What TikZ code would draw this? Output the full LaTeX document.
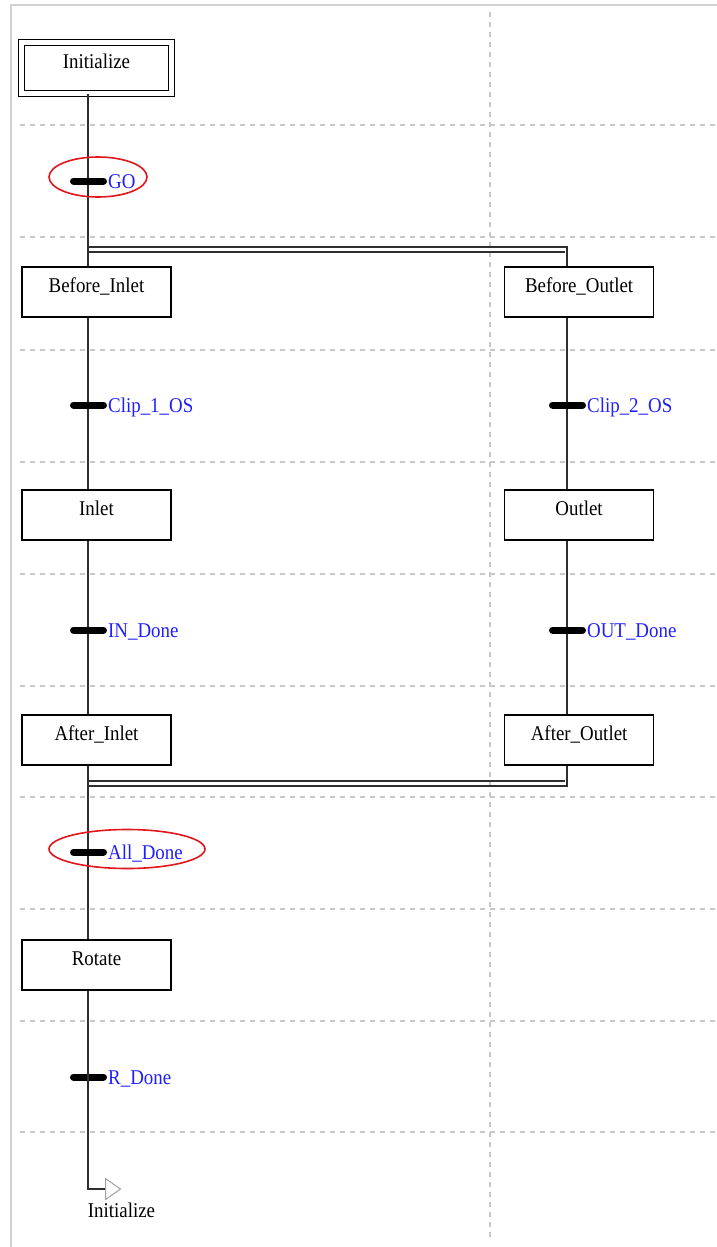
\documentclass[tikz,border=0pt]{standalone}
\usepackage{fontspec}
\setmainfont{Liberation Serif}
\newfontfamily\sfcfont[FakeStretch=0.9]{Liberation Serif}
\usetikzlibrary{positioning,calc,shapes.geometric}
\definecolor{GridGray}{HTML}{C8C8C8}
\definecolor{FrameGray}{HTML}{D2D2D2}
\definecolor{FlowBlack}{HTML}{2E2E2E}
\definecolor{CondBlue}{HTML}{1E1EFF}
\definecolor{RingRed}{HTML}{E3141C}
\tikzset{
    % Step box
    stepbox/.style={
        draw=black,
        fill=white,
        line width=1.6pt,
        minimum width=149pt,
        minimum height=50pt,
        inner sep=0pt,
        text height=14pt,
        text depth=14pt,
        font=\sfcfont\fontsize{21}{21}\selectfont
    },
    % Initial step (double frame)
    initbox/.style={
        stepbox,
        double=white,
        double distance=4.4pt,
        line width=1.6pt,
        minimum width=150pt,
        minimum height=51pt
    },
    % Transition condition text
    condtext/.style={
        anchor=base west,
        inner sep=0pt,
        text=CondBlue,
        font=\sfcfont\fontsize{21}{21}\selectfont
    },
    % Plain text
    plaintext/.style={
        anchor=base,
        inner sep=0pt,
        font=\sfcfont\fontsize{21}{21}\selectfont
    },
    % Transition bar
    trbar/.style={
        line width=7pt,
        line cap=round,
        draw=black
    },
    % Flow line
    flow/.style={
        line width=2.2pt,
        draw=FlowBlack
    },
    % Grid line
    gridline/.style={
        dash pattern=on 5pt off 5pt,
        line width=1.2pt,
        draw=GridGray
    },
    % Highlight ring
    ring/.style={
        line width=1.6pt,
        draw=RingRed
    },
    % Jump arrow
    jumptip/.style={
        isosceles triangle,
        isosceles triangle stretches,
        draw=GridGray!80!black,
        fill=white,
        line width=1pt,
        minimum height=15pt,
        minimum width=21pt,
        inner sep=0pt,
        anchor=west
    }
}
\begin{document}
\begin{tikzpicture}[x=1pt, y=-1pt]
        \useasboundingbox (0,0) rectangle (717,1247);

        % Frame and grid
        \draw[line width=2pt, draw=FrameGray] (11,1247) -- (11,5) -- (717,5);
        \foreach \gy in {125,237,350,462,574,686,797,909,1021,1132}
            \draw[gridline] (20,\gy) -- (717,\gy);
        \draw[gridline] (490,12) -- (490,1242);

        % Column coordinates
        \coordinate (colL) at (88,0);
        \coordinate (colR) at (567,0);

        % Steps
        \node[initbox] (init) at (96.5,68) {Initialize};
        \node[stepbox] (bi) at (96.5,292) {Before\_Inlet};
        \node[stepbox] (in) at (96.5,515) {Inlet};
        \node[stepbox] (ai) at (96.5,740) {After\_Inlet};
        \node[stepbox] (rot) at (96.5,965) {Rotate};
        \node[stepbox, right=332pt of bi] (bo) {Before\_Outlet};
        \node[stepbox, right=332pt of in] (out) {Outlet};
        \node[stepbox, right=332pt of ai] (ao) {After\_Outlet};

        % Divergence and convergence
        \coordinate (divT) at (88,247);
        \coordinate (divB) at (88,786);
        \draw[flow] (divT) -- (divT -| colR) -- (bo.north -| colR);
        \draw[flow] ($(divT)+(0,5)$) -- ($(divT -| colR)+(-2,5)$);
        \draw[flow] (ao.south -| colR) -- (divB -| colR) -- (divB);
        \draw[flow] ($(divB)+(0,-5)$) -- ($(divB -| colR)+(-2,-5)$);

        % Flow lines
        \draw[flow] (init.south -| colL) -- (bi.north -| colL);
        \draw[flow] (bi.south -| colL) -- (in.north -| colL);
        \draw[flow] (in.south -| colL) -- (ai.north -| colL);
        \draw[flow] (ai.south -| colL) -- (rot.north -| colL);
        \draw[flow] (bo.south -| colR) -- (out.north -| colR);
        \draw[flow] (out.south -| colR) -- (ao.north -| colR);

        % Transitions
        \coordinate (t1) at (88,181);
        \coordinate (t2) at (88,405);
        \coordinate (t3) at (88,630);
        \coordinate (t4) at (88,852);
        \coordinate (t5) at (88,1077);
        \coordinate (t6) at (567,405);
        \coordinate (t7) at (567,630);
        \foreach \t in {t1,t2,t3,t4,t5,t6,t7}
            \draw[trbar] ($(\t)+(-14.5,0)$) -- ($(\t)+(15.5,0)$);
        \node[condtext] (c1) at ($(t1)+(20,7)$) {GO};
        \node[condtext] (c2) at ($(t2)+(20,7)$) {Clip\_1\_OS};
        \node[condtext] (c3) at ($(t3)+(20,7)$) {IN\_Done};
        \node[condtext] (c4) at ($(t4)+(20,7)$) {All\_Done};
        \node[condtext] (c5) at ($(t5)+(20,7)$) {R\_Done};
        \node[condtext] (c6) at ($(t6)+(20,7)$) {Clip\_2\_OS};
        \node[condtext] (c7) at ($(t7)+(20,7)$) {OUT\_Done};

        % Highlight rings
        \draw[ring] ($(t1)+(10,-4)$) ellipse [x radius=49pt, y radius=20pt];
        \draw[ring] ($(t4)+(39,-3)$) ellipse [x radius=78pt, y radius=19.5pt];

        % Jump back
        \coordinate (jmp) at (88,1189);
        \node[jumptip] (jt) at ($(jmp)+(17,0)$) {};
        \draw[flow] (rot.south -| colL) -- (jmp) -- (jt.west);
        \node[plaintext] (jl) at (121.5,1217) {Initialize};
    \end{tikzpicture}
\end{document}
